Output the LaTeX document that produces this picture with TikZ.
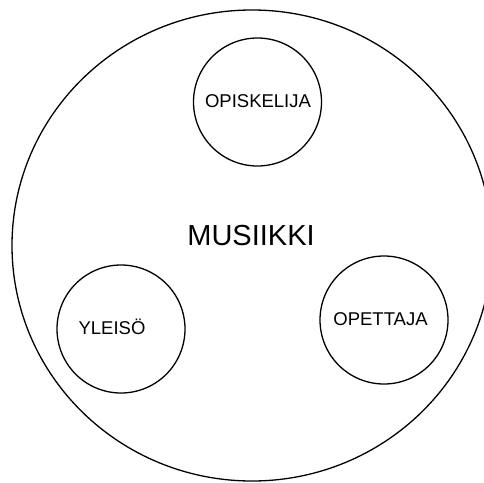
\documentclass[tikz,border=0pt]{standalone}
\usepackage{fontspec}
\setmainfont{Liberation Sans}
\usetikzlibrary{shapes.geometric}
\begin{document}
\begin{tikzpicture}[x=1pt,y=-1pt,
  ring/.style={draw=black,circle,line width=1.3pt,inner sep=0pt,minimum size=#1},
  outer/.style={draw=black,ellipse,line width=1.3pt,inner sep=0pt,minimum width=480pt,minimum height=471pt},
  small/.style={font=\fontsize{18.5}{20}\selectfont,inner sep=0pt,anchor=base},
  big/.style={font=\fontsize{29}{32}\selectfont,inner sep=0pt,anchor=base}]
\useasboundingbox (0,0) rectangle (484,482);
\fill[white] (0,0) rectangle (484,482);
\node[outer] (musiikki) at (252,245.5) {};
\node[ring=128pt] (opis) at (257.5,102) {};
\node[ring=128pt] (yleiso) at (121,329) {};
\node[ring=128pt] (opet) at (384,320) {};
\node[big] (tm) at (251,245) {MUSIIKKI};
\node[small] (to) at (258,107) {OPISKELIJA};
\node[small] (ty) at (112,334) {YLEISÖ};
\node[small] (tp) at (380.5,325) {OPETTAJA};
\end{tikzpicture}
\end{document}
